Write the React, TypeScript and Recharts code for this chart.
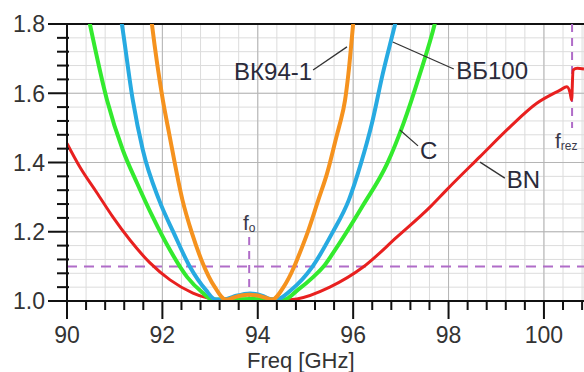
import React from 'react';
import { LineChart, Line, XAxis, YAxis, CartesianGrid, ReferenceLine, ReferenceDot } from 'recharts';

const FONT = '"Liberation Sans", Arial, sans-serif';
const TXT = '#333333';

// axis ticks
const X_MAJOR = [90, 92, 94, 96, 98, 100];
const Y_MAJOR = [1.0, 1.2, 1.4, 1.6, 1.8];
const X_TICKS = Array.from({ length: 28 }, (_, i) => Math.round((90 + i * 0.4) * 10) / 10);
const Y_TICKS = Array.from({ length: 21 }, (_, i) => Math.round((1 + i * 0.04) * 100) / 100);

// series: ВК94-1 (orange)
const bk94F = [91.72, 91.78, 92.01, 92.14, 92.42, 92.62, 92.82, 93.10, 93.33, 93.50, 93.65, 93.82, 94.00, 94.15, 94.30, 94.54, 94.76, 94.82, 95.04, 95.27, 95.45, 95.67, 95.72, 95.83, 95.90, 96.00, 96.05];
const bk94V = [1.87, 1.80, 1.58, 1.485, 1.292, 1.196, 1.118, 1.040, 1.004, 1.010, 1.016, 1.018, 1.016, 1.010, 1.004, 1.040, 1.098, 1.118, 1.196, 1.292, 1.367, 1.485, 1.511, 1.580, 1.656, 1.80, 1.87];

// series: ВБ100 (blue)
const bb100F = [91.08, 91.15, 91.38, 91.59, 91.93, 92.24, 92.58, 92.91, 93.12, 93.35, 93.55, 93.84, 94.10, 94.25, 94.38, 94.70, 95.14, 95.56, 95.91, 96.16, 96.39, 96.62, 96.88, 96.95];
const bb100V = [1.86, 1.80, 1.58, 1.436, 1.292, 1.196, 1.098, 1.032, 1.004, 1.006, 1.015, 1.022, 1.015, 1.006, 1.004, 1.032, 1.098, 1.196, 1.292, 1.396, 1.511, 1.656, 1.80, 1.84];

// series: C (green)
const cF = [90.42, 90.48, 90.84, 91.17, 91.47, 91.80, 92.16, 92.52, 92.85, 93.04, 93.40, 93.85, 94.20, 94.55, 94.84, 95.16, 95.37, 95.58, 96.21, 96.71, 97.05, 97.40, 97.71, 97.78];
const cV = [1.84, 1.80, 1.58, 1.436, 1.34, 1.242, 1.147, 1.069, 1.023, 1.004, 1.004, 1.006, 1.004, 1.004, 1.032, 1.069, 1.098, 1.139, 1.277, 1.396, 1.511, 1.656, 1.80, 1.84];

// series: BN (red)
const bnF = [90.0, 90.27, 90.63, 90.96, 91.32, 91.74, 92.16, 92.64, 92.94, 93.31, 93.9, 94.53, 94.82, 95.51, 96.21, 96.92, 97.61, 97.96, 98.66, 99.29, 99.85, 100.34, 100.48, 100.55, 100.58, 100.61, 100.70, 100.84];
const bnV = [1.455, 1.387, 1.312, 1.243, 1.176, 1.110, 1.061, 1.023, 1.009, 1.003, 1.003, 1.003, 1.006, 1.040, 1.098, 1.185, 1.271, 1.321, 1.417, 1.503, 1.571, 1.609, 1.619, 1.60, 1.58, 1.667, 1.672, 1.670];

// annotations
const LABEL_TEXTS = ['ВК94-1', 'ВБ100', 'C', 'BN'];
const LABEL_X = [95.14, 98.16, 97.40, 99.22];
const LABEL_Y = [1.664, 1.667, 1.436, 1.352];
const LABEL_ANCHOR = ['end', 'start', 'start', 'start'];
const LEADER_X1 = [95.16, 96.83, 96.98, 98.66];
const LEADER_Y1 = [1.667, 1.748, 1.494, 1.401];
const LEADER_X2 = [95.87, 98.11, 97.36, 99.18];
const LEADER_Y2 = [1.734, 1.670, 1.448, 1.355];

const REF_LEVEL = 1.1;
const F0 = 93.82;
const F0_TOP = 1.2;
const FREZ = 100.59;
const FREZ_BOTTOM = 1.5;
const F0_LABEL = { x: 93.69, y: 1.205 };
const FREZ_LABEL = { x: 100.23, y: 1.442 };

const toRows = (f: number[], v: number[]) => f.map((x, i) => ({ f: x, v: v[i] }));
const bk94 = toRows(bk94F, bk94V);
const bb100 = toRows(bb100F, bb100V);
const cData = toRows(cF, cV);
const bn = toRows(bnF, bnV);

const XTick = (props: any) => {
  const { x, y, payload } = props;
  const v = payload.value;
  const px = Number(x);
  const py = Number(y);
  const major = X_MAJOR.some((m) => Math.abs(m - v) < 1e-6);
  if (major) {
    return (
      <g>
        <rect x={px - 1} y={py} width={2} height={18} fill="#111" />
        <text x={px} y={py + 42} textAnchor="middle" fontSize={23} fill={TXT} fontFamily={FONT}>{v}</text>
      </g>
    );
  }
  return <rect x={px - 1} y={py} width={2} height={9} fill="#111" />;
};

const YTick = (props: any) => {
  const { x, y, payload } = props;
  const v = payload.value;
  const px = Number(x);
  const py = Number(y);
  const major = Y_MAJOR.some((m) => Math.abs(m - v) < 1e-6);
  if (major) {
    return (
      <g>
        <rect x={px - 19} y={py - 1} width={19} height={2} fill="#111" />
        <text x={px - 22} y={py} dy="0.36em" textAnchor="end" fontSize={23} fill={TXT} fontFamily={FONT}>{v.toFixed(1)}</text>
      </g>
    );
  }
  return <rect x={px - 10} y={py - 1} width={12} height={2} fill="#111" />;
};

const CurveLabel = (props: any) => {
  const { viewBox, text, anchor } = props;
  const cx = viewBox.x + (viewBox.width || 0) / 2;
  const cy = viewBox.y + (viewBox.height || 0) / 2;
  return (
    <text x={cx} y={cy} dy="0.36em" textAnchor={anchor} fontSize={24} fill="#2a2a3a" fontFamily={FONT}>{text}</text>
  );
};

const SubLabel = (props: any) => {
  const { viewBox, main, sub } = props;
  const cx = viewBox.x + (viewBox.width || 0) / 2;
  const cy = viewBox.y + (viewBox.height || 0) / 2;
  return (
    <text x={cx} y={cy} fontFamily={FONT} fill="#3a3a4a">
      <tspan fontSize={21}>{main}</tspan>
      <tspan fontSize={12} dy={2}>{sub}</tspan>
    </text>
  );
};

const AxisTitle = () => {
  return (
    <text x={247} y={368} fontSize={22} fill={TXT} fontFamily={FONT}>Freq [GHz]</text>
  );
};

export default function App() {
  return (
    <div style={{ position: 'absolute', left: 0, top: 0, width: 584, height: 372, background: '#fff' }}>
      <LineChart width={584} height={372} margin={{ top: 24, right: 0, left: 0, bottom: 0 }}>
        <CartesianGrid stroke="#dcdcdc" strokeWidth={1} />
        <CartesianGrid stroke="#b5b5b5" strokeWidth={1} verticalValues={X_MAJOR} horizontalValues={Y_MAJOR} />
        <XAxis
          type="number"
          dataKey="f"
          domain={[90, 100.84]}
          allowDataOverflow
          ticks={X_TICKS}
          interval={0}
          tick={<XTick />}
          tickLine={false}
          tickSize={0}
          tickMargin={0}
          axisLine={{ stroke: '#111', strokeWidth: 2 }}
          height={71}
          label={<AxisTitle />}
        />
        <YAxis
          type="number"
          dataKey="v"
          domain={[1.0, 1.8]}
          allowDataOverflow
          ticks={Y_TICKS}
          interval={0}
          tick={<YTick />}
          tickLine={false}
          tickSize={0}
          tickMargin={0}
          axisLine={{ stroke: '#111', strokeWidth: 2 }}
          width={67}
        />
        <ReferenceLine y={1.8} stroke="#111" strokeWidth={2} />
        <ReferenceLine y={REF_LEVEL} stroke="#b06cc8" strokeWidth={2} strokeDasharray="10 7" />
        <ReferenceLine segment={[{ x: F0, y: 1.0 }, { x: F0, y: F0_TOP }]} stroke="#b06cc8" strokeWidth={2} strokeDasharray="8 6" />
        <ReferenceLine segment={[{ x: FREZ, y: 1.8 }, { x: FREZ, y: FREZ_BOTTOM }]} stroke="#b06cc8" strokeWidth={2} strokeDasharray="8 6" />
        <Line data={bn} dataKey="v" type="monotone" stroke="#e8201f" strokeWidth={3} dot={false} isAnimationActive={false} />
        <Line data={cData} dataKey="v" type="monotone" stroke="#33ea2e" strokeWidth={4} dot={false} isAnimationActive={false} />
        <Line data={bb100} dataKey="v" type="monotone" stroke="#27aae1" strokeWidth={4} dot={false} isAnimationActive={false} />
        <Line data={bk94} dataKey="v" type="monotone" stroke="#f5921e" strokeWidth={4} dot={false} isAnimationActive={false} />
        {LABEL_TEXTS.map((t, i) => (
          <ReferenceLine
            key={'ld' + i}
            segment={[{ x: LEADER_X1[i], y: LEADER_Y1[i] }, { x: LEADER_X2[i], y: LEADER_Y2[i] }]}
            stroke="#333"
            strokeWidth={1.3}
          />
        ))}
        {LABEL_TEXTS.map((t, i) => (
          <ReferenceDot
            key={'lb' + i}
            x={LABEL_X[i]}
            y={LABEL_Y[i]}
            r={1}
            fill="none"
            stroke="none"
            label={<CurveLabel text={t} anchor={LABEL_ANCHOR[i]} />}
          />
        ))}
        <ReferenceDot x={F0_LABEL.x} y={F0_LABEL.y} r={1} fill="none" stroke="none" label={<SubLabel main="f" sub="o" />} />
        <ReferenceDot x={FREZ_LABEL.x} y={FREZ_LABEL.y} r={1} fill="none" stroke="none" label={<SubLabel main="f" sub="rez" />} />
      </LineChart>
    </div>
  );
}
